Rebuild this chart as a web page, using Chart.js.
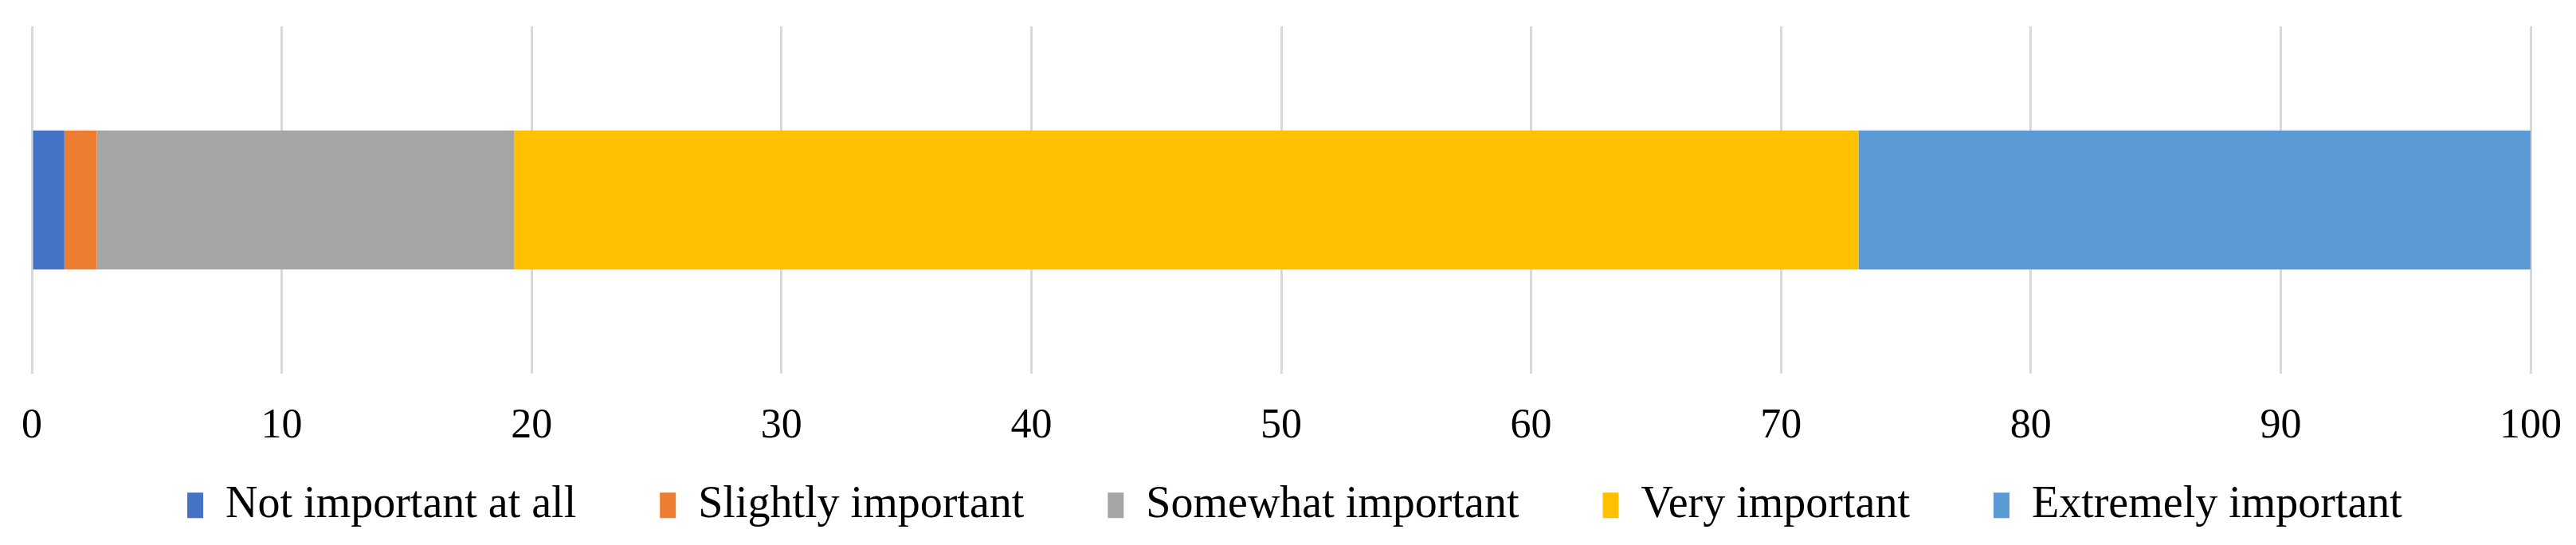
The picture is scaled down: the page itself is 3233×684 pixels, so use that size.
<!DOCTYPE html>
<html>
<head>
<meta charset="utf-8">
<script src="https://cdn.jsdelivr.net/npm/chart.js@4/dist/chart.umd.min.js"></script>
<style>
html, body { margin: 0; padding: 0; background: #ffffff; }
#wrap { width: 3233px; height: 684px; position: relative; }
</style>
</head>
<body>
<div id="wrap"><canvas id="c"></canvas></div>
<script>
// ---- data ----
const categories = [''];
const seriesNames = ['Not important at all', 'Slightly important', 'Somewhat important', 'Very important', 'Extremely important'];
const notImportantAtAll = [1.3];
const slightlyImportant = [1.3];
const somewhatImportant = [16.7];
const veryImportant = [53.8];
const extremelyImportant = [26.9];
const xTickValues = [0, 10, 20, 30, 40, 50, 60, 70, 80, 90, 100];

const seriesValues = [notImportantAtAll, slightlyImportant, somewhatImportant, veryImportant, extremelyImportant];
const seriesColors = ['#4472C4', '#ED7D31', '#A5A5A5', '#FFC000', '#5B9BD5'];

const datasets = seriesNames.map((name, i) => ({
  label: name,
  data: seriesValues[i],
  backgroundColor: seriesColors[i],
  borderWidth: 0,
  categoryPercentage: 1.0,
  barPercentage: 0.4
}));

// legend placement helper: keeps wide horizontal gaps between items
// without reserving the same amount of vertical space
const LEGEND_RESERVED_HEIGHT = 83;
const legendPlacement = {
  id: 'legendPlacement',
  afterInit(chart) {
    const lg = chart.legend;
    if (!lg) return;
    const origFit = lg.fit.bind(lg);
    lg.fit = function () { origFit(); this.height = LEGEND_RESERVED_HEIGHT; };
  },
  afterLayout(chart) {
    const lg = chart.legend;
    if (!lg) return;
    lg.top = chart.chartArea.bottom + 32;
    lg.bottom = chart.height;
    lg.height = lg.bottom - lg.top;
    lg.left += 17;
    lg.right += 17;
  }
};

new Chart(document.getElementById('c'), {
  type: 'bar',
  data: { labels: categories, datasets: datasets },
  plugins: [legendPlacement],
  options: {
    indexAxis: 'y',
    responsive: true,
    maintainAspectRatio: false,
    animation: false,
    layout: { padding: { left: 40, right: 57, top: 33, bottom: 0 } },
    scales: {
      x: {
        stacked: true,
        min: 0,
        max: 100,
        afterBuildTicks: (scale) => { scale.ticks = xTickValues.map(v => ({ value: v })); },
        border: { display: false },
        grid: { color: '#d9d9d9', lineWidth: 3, drawTicks: false },
        ticks: {
          padding: 10,
          color: '#000000',
          font: { family: '"Liberation Serif", "Times New Roman", serif', size: 52, lineHeight: 2.15 }
        }
      },
      y: {
        stacked: true,
        display: false
      }
    },
    plugins: {
      tooltip: { enabled: false },
      legend: {
        position: 'bottom',
        labels: {
          color: '#000000',
          boxWidth: 20,
          boxHeight: 32,
          padding: 105,
          font: { family: '"Liberation Serif", "Times New Roman", serif', size: 56 }
        }
      }
    }
  }
});
</script>
</body>
</html>
